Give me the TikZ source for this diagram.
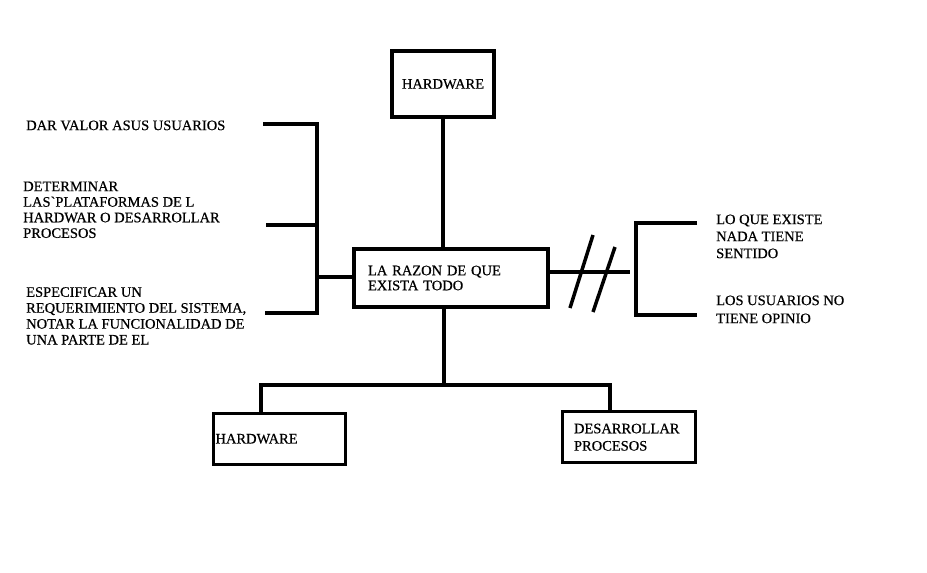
\documentclass[tikz,border=0pt]{standalone}
\usepackage{fontspec}
\setmainfont{Liberation Serif}[FakeBold=0.5]
\begin{document}
\begin{tikzpicture}[x=1pt,y=-1pt,
  fs/.style={font=\fontsize{14.5}{#1}\selectfont},
  box/.style={draw, line width=3.5pt, inner sep=0pt, fs=15.6},
  txt/.style={inner sep=0pt, anchor=north west, align=left, fs=#1},
  txt/.default=15.6,
  link/.style={line width=3.5pt}]
\useasboundingbox[fill=white] (0,0) rectangle (927,573);

% boxes
\node[box, minimum width=102pt, minimum height=66pt] (hwtop) at (443,84) {HARDWARE};
\node[box, minimum width=194pt, minimum height=58pt, text width=166pt, inner xsep=14pt, align=left, fs=15] (centre) at (451,278) {LA RAZON DE QUE\\EXISTA TODO};
\node[box, minimum width=132pt, minimum height=51pt, text width=128pt, inner xsep=2pt, align=left] (hwleft) at (279.5,438.8) {HARDWARE};
\node[box, minimum width=133pt, minimum height=51pt, text width=110pt, inner xsep=11.5pt, align=left, fs=17.3] (dev) at (629,437.2) {DESARROLLAR\\PROCESOS};

% texts
\node[txt] (t1) at (26,120.3) {DAR VALOR ASUS USUARIOS};
\node[txt] (t2) at (23,181.3) {DETERMINAR\\LAS\textasciigrave PLATAFORMAS DE L\\HARDWAR O DESARROLLAR\\PROCESOS};
\node[txt=15.9] (t3) at (26,287) {ESPECIFICAR UN\\REQUERIMIENTO DEL SISTEMA,\\NOTAR LA FUNCIONALIDAD DE\\UNA PARTE DE EL};
\node[txt=17] (r1) at (716,214.3) {LO QUE EXISTE\\NADA TIENE\\SENTIDO};
\node[txt=18] (r2) at (716,295.3) {LOS USUARIOS NO\\TIENE OPINIO};

% coordinates
\coordinate (l1) at (263,124);
\coordinate (l2) at (266,225);
\coordinate (l3) at (265,313);
\coordinate (lv1) at (317,124);
\coordinate (lv2) at (317,225);
\coordinate (lv3) at (317,313);
\coordinate (lc) at (317,277);
\coordinate (rg) at (630,272);
\coordinate (s1a) at (593,235);
\coordinate (s1b) at (570,308);
\coordinate (s2a) at (615,247);
\coordinate (s2b) at (593,312);
\coordinate (rv1) at (636,223);
\coordinate (rv2) at (636,315);
\coordinate (r1e) at (697,223);
\coordinate (r2e) at (697,315);
\coordinate (bj) at (444,385);
\coordinate (bl) at (261,385);
\coordinate (br) at (610,385);

% connectors
\draw[link] (hwtop.south) -- (hwtop.south |- centre.north);
\draw[link] (l1) -- (lv1) -- (lv3) -- (l3);
\draw[link] (l2) -- (lv2);
\draw[link] (lc) -- (centre.west |- lc);
\draw[link] (centre.east |- rg) -- (rg);
\draw[link] (s1a) -- (s1b);
\draw[link] (s2a) -- (s2b);
\draw[link] (r1e) -- (rv1) -- (rv2) -- (r2e);
\draw[link] (centre.south -| bj) -- (bj);
\draw[link] (hwleft.north -| bl) -- (bl) -- (br) -- (dev.north -| br);
\end{tikzpicture}
\end{document}
